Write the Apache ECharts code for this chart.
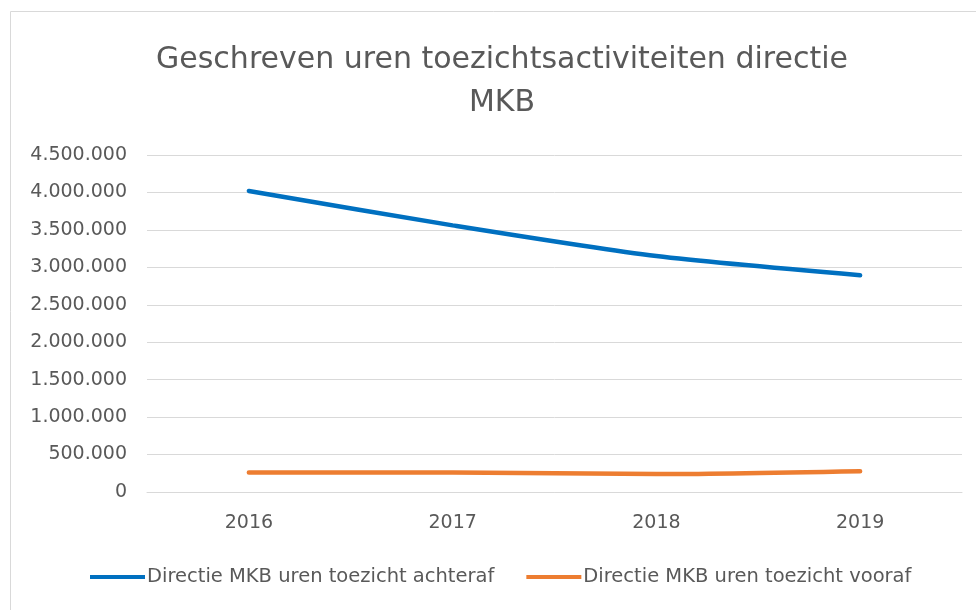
<!DOCTYPE html>
<html>
<head>
<meta charset="utf-8">
<script src="https://cdn.jsdelivr.net/npm/echarts@6/dist/echarts.min.js"></script>
<style>
  html, body { margin: 0; padding: 0; background: #fff; }
  #chart { width: 976px; height: 610px; }
</style>
</head>
<body>
<div id="chart"></div>
<script>
const years = ['2016', '2017', '2018', '2019'];
const achteraf = [4020000, 3560000, 3150000, 2895000];
const vooraf = [261000, 260000, 239000, 278000];
const yMin = 0, yMax = 4500000, yStep = 500000;

const gray = '#595959';
const font = "'DejaVu Sans', sans-serif";

const fmt = v => String(v).replace(/\B(?=(\d{3})+(?!\d))/g, '.');

const chart = echarts.init(document.getElementById('chart'));

chart.setOption({
  animation: false,
  graphic: [{
    type: 'rect',
    shape: { x: 10.5, y: 11.5, width: 1000, height: 700 },
    style: { fill: 'none', stroke: '#d9d9d9', lineWidth: 1 },
    silent: true
  }],
  title: {
    text: 'Geschreven uren toezichtsactiviteiten directie\nMKB',
    left: 497,
    textAlign: 'center',
    top: 34,
    textStyle: {
      fontFamily: font,
      fontSize: 30,
      fontWeight: 'normal',
      color: gray,
      lineHeight: 43
    }
  },
  legend: {
    bottom: 18,
    left: 85,
    icon: 'rect',
    itemWidth: 55,
    itemHeight: 4,
    itemGap: 32,
    textStyle: { fontFamily: font, fontSize: 19.5, color: gray, padding: [0, 0, 0, -3] },
    data: ['Directie MKB uren toezicht achteraf', 'Directie MKB uren toezicht vooraf']
  },
  grid: { left: 147, right: 14, top: 155, bottom: 118 },
  xAxis: {
    type: 'category',
    data: years,
    axisLine: { lineStyle: { color: '#d9d9d9' } },
    axisTick: { show: false },
    axisLabel: { fontFamily: font, fontSize: 19, color: gray, margin: 22 }
  },
  yAxis: {
    type: 'value',
    min: yMin,
    max: yMax,
    interval: yStep,
    axisLine: { show: false },
    axisTick: { show: false },
    splitLine: { lineStyle: { color: '#d9d9d9' } },
    axisLabel: { fontFamily: font, fontSize: 19, color: gray, margin: 20, formatter: fmt }
  },
  series: [
    {
      name: 'Directie MKB uren toezicht achteraf',
      type: 'line',
      data: achteraf,
      smooth: 0.25,
      symbol: 'none',
      lineStyle: { color: '#0070C0', width: 4.5, cap: 'round' },
      itemStyle: { color: '#0070C0' }
    },
    {
      name: 'Directie MKB uren toezicht vooraf',
      type: 'line',
      data: vooraf,
      smooth: 0.25,
      symbol: 'none',
      lineStyle: { color: '#ED7D31', width: 4.5, cap: 'round' },
      itemStyle: { color: '#ED7D31' }
    }
  ]
});
</script>
</body>
</html>
